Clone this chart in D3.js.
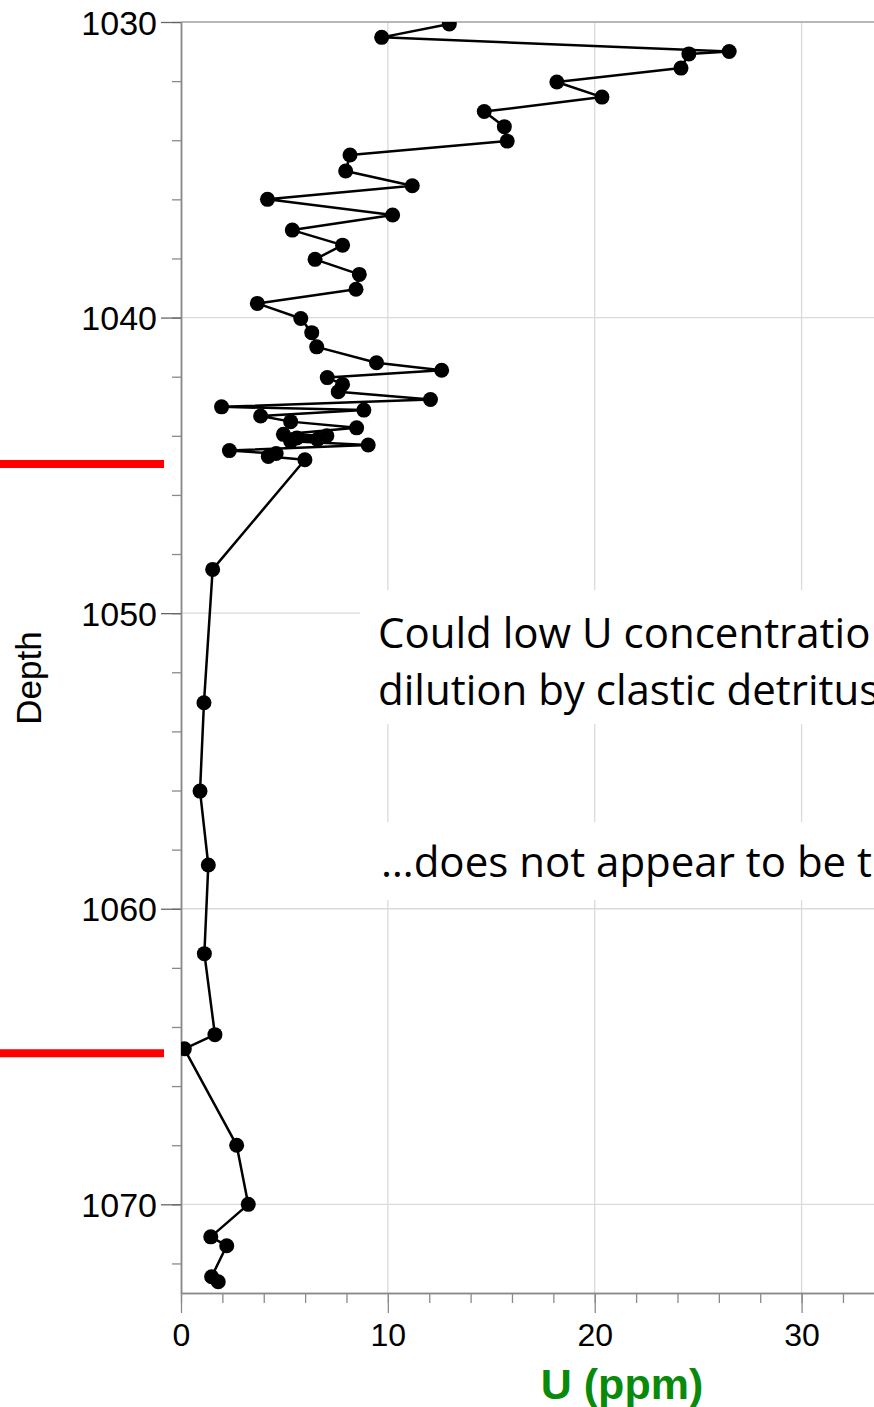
<!DOCTYPE html>
<html>
<head>
<meta charset="utf-8">
<script src="https://cdn.jsdelivr.net/npm/d3@7"></script>
<style>
  html, body { margin: 0; padding: 0; background: #fff; }
  svg { display: block; }
</style>
</head>
<body>
<svg id="chart" width="874" height="1407"></svg>
<script>
// Uranium concentration down the core (depth in m, U in ppm)
const depth = [
  1030.07, 1030.52, 1031.0, 1031.08, 1031.56, 1032.03, 1032.54, 1033.03, 1033.54, 1034.03,
  1034.5, 1035.04, 1035.54, 1036.0, 1036.53, 1037.04, 1037.55, 1038.03, 1038.54, 1039.04,
  1039.52, 1040.03, 1040.51, 1040.99, 1041.53, 1041.78, 1042.03, 1042.26, 1042.51, 1042.77,
  1043.02, 1043.13, 1043.33, 1043.52, 1043.73, 1043.95, 1044.0, 1044.07, 1044.12, 1044.18,
  1044.31, 1044.5, 1044.6, 1044.7, 1044.81, 1048.52, 1053.03, 1056.02, 1058.52, 1061.52,
  1064.26, 1064.74, 1068.0, 1070.0, 1071.1, 1071.4, 1072.45, 1072.62
];
const uranium = [
  12.97, 9.7, 26.5, 24.55, 24.17, 18.17, 20.35, 14.66, 15.63, 15.77,
  8.17, 7.96, 11.18, 4.18, 10.23, 5.38, 7.81, 6.48, 8.62, 8.46,
  3.69, 5.79, 6.32, 6.56, 9.45, 12.6, 7.07, 7.81, 7.6, 12.06,
  1.96, 8.84, 3.85, 5.3, 8.49, 4.95, 7.05, 5.6, 6.6, 5.3,
  9.05, 2.34, 4.6, 4.22, 5.99, 1.53, 1.11, 0.92, 1.32, 1.13,
  1.64, 0.16, 2.69, 3.25, 1.44, 2.21, 1.48, 1.8
];

// Axis ticks
const depthMajorTicks = [1030, 1040, 1050, 1060, 1070];
const depthMinorTicks = d3.range(1030, 1074, 2);
const uMajorTicks = [0, 10, 20, 30];
const uMinorTicks = d3.range(0, 35, 2);

// Unit boundaries marked beside the depth axis
const boundaryDepths = [1044.95, 1064.89];

// Text callouts
const calloutTop = ["Could low U concentratio", "dilution by clastic detritus"];
const calloutBottom = ["\u2026does not appear to be t"];

const svg = d3.select("#chart");
const W = 874;
const plot = { left: 181, top: 22, right: 874, bottom: 1293 };

const x = d3.scaleLinear().domain([0, 33.5]).range([plot.left, plot.right]);
const y = d3.scaleLinear().domain([1030, 1073]).range([plot.top, plot.bottom]);

const gridColor = "#dadada";
const axisColor = "#8a8a8a";

// Gridlines
const grid = svg.append("g");
grid.selectAll("line.v").data(uMajorTicks.filter(d => d > 0)).join("line")
  .attr("x1", d => x(d)).attr("x2", d => x(d))
  .attr("y1", plot.top).attr("y2", plot.bottom)
  .attr("stroke", gridColor).attr("stroke-width", 1.3);
grid.selectAll("line.h").data(depthMajorTicks.filter(d => d > 1030)).join("line")
  .attr("x1", plot.left).attr("x2", plot.right)
  .attr("y1", d => y(d)).attr("y2", d => y(d))
  .attr("stroke", gridColor).attr("stroke-width", 1.3);

// Top frame line
svg.append("line")
  .attr("x1", plot.left).attr("x2", plot.right)
  .attr("y1", plot.top).attr("y2", plot.top)
  .attr("stroke", "#a0a0a0").attr("stroke-width", 1.5);

// Depth axis: minor ticks, then labelled major ticks
const yMinor = svg.append("g").attr("transform", `translate(${plot.left},0)`)
  .call(d3.axisLeft(y).tickValues(depthMinorTicks).tickSize(9).tickSizeOuter(0).tickFormat(""));
const yMajor = svg.append("g").attr("transform", `translate(${plot.left},0)`)
  .call(d3.axisLeft(y).tickValues(depthMajorTicks).tickSize(20).tickSizeOuter(0)
    .tickPadding(4).tickFormat(d3.format("d")));
[yMinor, yMajor].forEach(g => {
  g.select(".domain").attr("stroke", axisColor).attr("stroke-width", 1.5);
  g.selectAll(".tick line").attr("stroke", "#666").attr("stroke-width", 1.3);
});
yMinor.selectAll(".tick line").attr("stroke", axisColor);
yMajor.selectAll(".tick text")
  .attr("font-family", "Liberation Sans, Arial, sans-serif")
  .attr("font-size", 34).attr("fill", "#000").attr("dy", "0.36em");

// U axis
const xMinor = svg.append("g").attr("transform", `translate(0,${plot.bottom})`)
  .call(d3.axisBottom(x).tickValues(uMinorTicks).tickSize(10).tickSizeOuter(0).tickFormat(""));
const xMajor = svg.append("g").attr("transform", `translate(0,${plot.bottom})`)
  .call(d3.axisBottom(x).tickValues(uMajorTicks).tickSize(20).tickSizeOuter(0)
    .tickPadding(10).tickFormat(d3.format("d")));
[xMinor, xMajor].forEach(g => {
  g.select(".domain").attr("stroke", axisColor).attr("stroke-width", 1.5);
  g.selectAll(".tick line").attr("stroke", axisColor).attr("stroke-width", 1.3);
});
xMajor.selectAll(".tick text")
  .attr("font-family", "Liberation Sans, Arial, sans-serif")
  .attr("font-size", 32).attr("fill", "#000").attr("dy", "0.72em");

// Axis titles
svg.append("text")
  .attr("transform", `translate(41,678) rotate(-90)`)
  .attr("text-anchor", "middle")
  .attr("font-family", "Liberation Sans, Arial, sans-serif")
  .attr("font-size", 35).attr("fill", "#000")
  .text("Depth");
svg.append("text")
  .attr("x", 622).attr("y", 1399)
  .attr("text-anchor", "middle")
  .attr("font-family", "Liberation Sans, Arial, sans-serif")
  .attr("font-weight", "bold")
  .attr("font-size", 43).attr("fill", "#0a8a0a")
  .text("U (ppm)");

// Profile line and sample markers, clipped to the plot frame
svg.append("clipPath").attr("id", "plot-clip")
  .append("rect")
  .attr("x", plot.left).attr("y", plot.top)
  .attr("width", plot.right - plot.left).attr("height", plot.bottom - plot.top);

const samples = depth.map((d, i) => ({ depth: d, u: uranium[i] }));
const series = svg.append("g").attr("clip-path", "url(#plot-clip)");
series.append("path")
  .datum(samples)
  .attr("fill", "none").attr("stroke", "#000").attr("stroke-width", 2.5)
  .attr("stroke-linejoin", "round")
  .attr("d", d3.line().x(d => x(d.u)).y(d => y(d.depth)));
series.selectAll("circle").data(samples).join("circle")
  .attr("cx", d => x(d.u)).attr("cy", d => y(d.depth))
  .attr("r", 7.5).attr("fill", "#000");

// Boundary markers left of the axis
svg.selectAll("line.boundary").data(boundaryDepths).join("line")
  .attr("class", "boundary")
  .attr("x1", 0).attr("x2", 164)
  .attr("y1", d => y(d)).attr("y2", d => y(d))
  .attr("stroke", "#ff0000").attr("stroke-width", 8);

// Callout boxes
const calloutFont = "Open Sans, Lato, sans-serif";
function callout(lines, box, baselines, startX) {
  svg.append("rect")
    .attr("x", box.x).attr("y", box.y).attr("width", box.w).attr("height", box.h)
    .attr("fill", "#fff");
  svg.append("g").selectAll("text").data(lines).join("text")
    .attr("x", startX).attr("y", (d, i) => baselines[i])
    .attr("font-family", calloutFont).attr("font-size", 42).attr("fill", "#000")
    .text(d => d);
}
callout(calloutTop, { x: 360, y: 590, w: W - 360, h: 134 }, [648, 705], 378);
callout(calloutBottom, { x: 360, y: 822, w: W - 360, h: 78 }, [877], 381);
</script>
</body>
</html>
